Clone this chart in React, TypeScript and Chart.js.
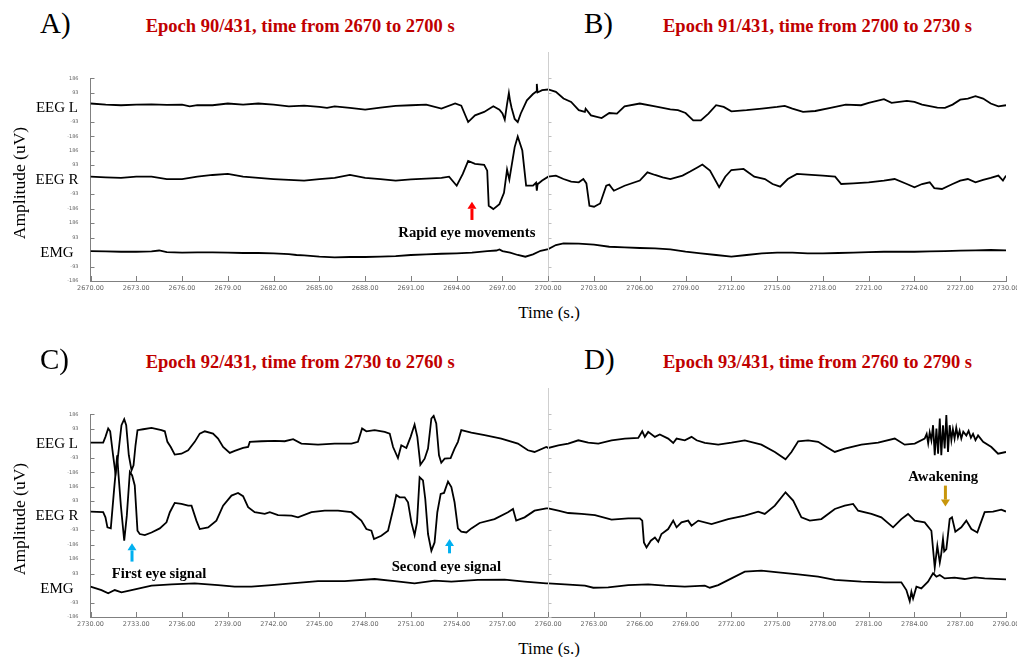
import React, { useEffect, useRef } from "react";
import { Chart, registerables } from "chart.js";
Chart.register(...registerables);

// ---------- data ----------
const CHANNEL_NAMES = ["EEG L", "EEG R", "EMG"];
const CHANNEL_OFFSETS = [930, 465, 0];
const Y_TICK_VALUES = [186, 93, -93, -186];
const ROW1_X_TICKS = [2670, 2673, 2676, 2679, 2682, 2685, 2688, 2691, 2694, 2697, 2700, 2703, 2706, 2709, 2712, 2715, 2718, 2721, 2724, 2727, 2730];
const ROW2_X_TICKS = [2730, 2733, 2736, 2739, 2742, 2745, 2748, 2751, 2754, 2757, 2760, 2763, 2766, 2769, 2772, 2775, 2778, 2781, 2784, 2787, 2790];
const PANEL_TITLES = [
  "Epoch 90/431, time from 2670 to 2700 s",
  "Epoch 91/431, time from 2700 to 2730 s",
  "Epoch 92/431, time from 2730 to 2760 s",
  "Epoch 93/431, time from 2760 to 2790 s",
];
const PANEL_LETTERS = ["A)", "B)", "C)", "D)"];

const R1_EEG_L: [number, number][] = [
  [2670, 24], [2671, 17], [2672, 13], [2673, 17], [2674, 19], [2675, 15], [2676, 17], [2676.5, 6], [2677, 13], [2678, 13],
  [2679, 24], [2680, 17], [2681, 24], [2682, 17], [2683, 6], [2684, 11], [2685, 2], [2685.5, -4], [2686, 6], [2687, -4],
  [2688, -15], [2689, -2], [2690, 9], [2691, 13], [2692, 17], [2693, -9], [2693.9, 24], [2694.3, 10], [2694.75, -95],
  [2695.2, -52], [2695.8, -30], [2696.4, 6], [2696.8, -15], [2697, -40], [2697.15, -80], [2697.3, 20], [2697.42, 92],
  [2697.5, 40], [2697.6, -5], [2697.8, -75], [2698, -95], [2698.2, -40], [2698.6, 45], [2699, 85], [2699.2, 100],
  [2699.25, 150], [2699.3, 95], [2699.6, 110], [2700, 114],
  [2700.5, 99], [2701, 56], [2701.5, 34], [2702, -19], [2702.4, -30], [2702.45, -9], [2702.8, -52], [2703.5, -69],
  [2704, -37], [2704.5, -41], [2705, 6], [2706, 24], [2707, 6], [2708, -13], [2708.5, -19], [2709, -37], [2709.5, -84],
  [2710, -84], [2710.5, -41], [2711, 13], [2711.5, 2], [2712, -26], [2713, -19], [2714, -9], [2715, 2], [2715.5, 9],
  [2716, -9], [2716.7, -30], [2717.5, -24], [2718.5, -4], [2719.5, 17], [2720.5, 13], [2721, 28], [2722, 52], [2722.5, 28],
  [2723.5, 41], [2724, 34], [2724.5, 17], [2725.5, -2], [2726, -4], [2726.5, 17], [2727, 49], [2727.5, 56], [2728, 71],
  [2728.5, 56], [2729, 24], [2729.5, 6], [2730, 13],
];

const R1_EEG_R: [number, number][] = [
  [2670, 19], [2671, 15], [2672, 11], [2673, 19], [2674, 19], [2675, 4], [2676, 4], [2677, 19], [2678, 30], [2679, 37],
  [2680, 19], [2681, 11], [2682, 4], [2683, -2], [2684, -6], [2685, 4], [2686, 11], [2687, 30], [2688, 11], [2689, 4],
  [2690, -6], [2691, 2], [2692, 6], [2693, 11], [2693.5, 19], [2694, -39], [2694.4, 37], [2694.75, 120], [2695.2, 101],
  [2695.8, 95], [2696, 58], [2696.1, -168], [2696.4, -189], [2696.8, -157], [2697.1, -85], [2697.3, 65], [2697.45, 0],
  [2697.8, 209], [2698, 277], [2698.3, 187], [2698.55, -39], [2699, -39], [2699.2, -20], [2699.25, -71], [2699.3, -30],
  [2699.6, -6], [2700, 19],
  [2700.5, 26], [2701, 4], [2701.5, -13], [2702, -17], [2702.3, 4], [2702.5, -24], [2702.7, -168], [2703, -174],
  [2703.4, -153], [2703.8, -39], [2704, -32], [2704.3, -71], [2705, -39], [2706, -6], [2706.5, 47], [2707, 30],
  [2707.5, 15], [2708, 4], [2708.8, 26], [2709.3, 52], [2709.8, 80], [2710.1, 97], [2710.6, 58], [2711.2, -49],
  [2711.6, 19], [2712, 62], [2712.8, 69], [2713.5, 19], [2714.2, 4], [2714.7, -28], [2715.2, -45], [2715.7, 4],
  [2716.3, 37], [2717, 32], [2718, 26], [2718.8, 19], [2719.2, -28], [2720, -24], [2721, -17], [2722, -6], [2722.7, 4],
  [2723.5, -28], [2724, -49], [2724.5, -28], [2725, -17], [2725.3, -54], [2725.8, -60], [2726.5, -28], [2727, -6],
  [2727.5, 4], [2728, -17], [2728.5, -2], [2729, 11], [2729.5, 26], [2729.8, -6], [2730, 26],
];

const R1_EMG: [number, number][] = [
  [2670, 6], [2671, 4], [2672, 2], [2673, 2], [2674, 4], [2674.5, 10], [2675, 0], [2676, -4], [2677, -2], [2678, -2],
  [2679, -4], [2680, -6], [2681, -6], [2682, -9], [2683, -13], [2683.5, -19], [2684, -22], [2685, -30], [2686, -34],
  [2687, -32], [2688, -32], [2689, -30], [2690, -26], [2691, -19], [2692, -15], [2693, -11], [2694, -8], [2695, -4],
  [2696, 6], [2696.6, 10], [2696.8, 17], [2697, 6], [2697.5, -4], [2698, -19], [2698.5, -30], [2699, -15], [2699.5, 8],
  [2700, 19], [2700.5, 45], [2701, 56], [2702, 54], [2703, 47], [2704, 34], [2705, 30], [2706, 26], [2707, 24],
  [2708, 17], [2709, 2], [2710, -9], [2711, -19], [2712, -30], [2713, -19], [2714, -9], [2715, -4], [2716, -4],
  [2717, -9], [2718, -9], [2719, -6], [2720, -4], [2721, 0], [2722, 2], [2723, 2], [2724, 2], [2725, 4], [2726, 6],
  [2727, 9], [2728, 11], [2729, 13], [2730, 11],
];

const R2_EEG_L: [number, number][] = [
  [2730, 4], [2730.83, 4], [2730.98, 41], [2731.16, 95], [2731.29, 77], [2731.48, -77], [2731.64, -196], [2731.81, -77],
  [2732.03, 116], [2732.21, 155], [2732.34, 116], [2732.51, -77], [2732.69, -174], [2732.82, -142], [2732.95, -13],
  [2733.08, 84], [2733.45, 90], [2734, 99], [2734.65, 84], [2734.87, 77], [2735.04, 9], [2735.26, -24], [2735.52, -73],
  [2735.96, -67], [2736.4, -45], [2736.83, 9], [2737.16, 62], [2737.49, 77], [2738.03, 62], [2738.36, 30], [2738.69, -24],
  [2739.13, -62], [2739.45, -49], [2740, -30], [2740.33, -24], [2740.44, 9], [2741.2, 13], [2742.07, 15], [2742.73, 13],
  [2743.28, 26], [2743.82, -2], [2744.91, -9], [2746, -2], [2747.1, -2], [2747.53, 9], [2747.8, 95], [2748.08, 77],
  [2748.62, 84], [2749.28, 73], [2749.61, 62], [2749.83, -24], [2750.15, -95], [2750.37, -13], [2750.7, -30],
  [2750.98, 41], [2751.24, 120], [2751.42, 41], [2751.62, -138], [2751.9, -99], [2752.12, -34], [2752.34, 159],
  [2752.49, 176], [2752.66, 127], [2752.84, -77], [2752.99, -125], [2753.21, -99], [2753.6, -95], [2753.86, -34],
  [2754.08, 9], [2754.3, 84], [2754.96, 69], [2755.83, 52], [2756.92, 30], [2758.01, -2], [2758.67, -45], [2759.1, -56],
  [2759.87, -24],
  [2760, -30], [2760.66, -13], [2761.31, -2], [2761.97, 19], [2762.62, 4], [2763.28, -2], [2764.15, 19], [2765.02, 30],
  [2765.9, 34], [2766.16, 77], [2766.33, 41], [2766.55, 73], [2766.99, 41], [2767.31, 56], [2767.86, 30], [2768.19, 2],
  [2768.41, 30], [2768.95, 19], [2769.39, 41], [2769.72, 19], [2770.26, 2], [2771.14, -9], [2772.01, 4], [2772.88, 19],
  [2773.97, -9], [2774.85, -56], [2775.55, -103], [2775.94, -56], [2776.38, 13], [2777.03, 19], [2777.69, 9],
  [2778.23, -24], [2778.78, -56], [2779.43, -34], [2780.52, -9], [2781.62, 4], [2782.71, 30], [2783.36, -9],
  [2784.02, -2], [2784.67, 30], [2784.8, 60], [2784.9, 0], [2785.0, 70], [2785.11, 19], [2785.22, 116], [2785.33, -77],
  [2785.44, 95], [2785.55, -67], [2785.66, 159], [2785.76, -77], [2785.87, 116], [2785.98, -34], [2786.09, 181],
  [2786.2, -56], [2786.31, 116], [2786.42, 20], [2786.52, 90], [2786.63, 30], [2786.74, 100], [2786.85, 40],
  [2786.96, 80], [2787.07, 30], [2787.2, 75], [2787.4, 50], [2787.55, 80], [2787.7, 35], [2787.84, 60], [2788.0, 20],
  [2788.17, 50], [2788.5, 9], [2789.04, -24], [2789.48, -67], [2790, -56],
];

const R2_EEG_R: [number, number][] = [
  [2730, 26], [2730.83, 22], [2730.98, -11], [2731.11, -75], [2731.33, -82], [2731.55, 172], [2731.75, 387],
  [2731.83, 269], [2731.99, 64], [2732.21, -161], [2732.38, 0], [2732.58, 280], [2732.73, 258], [2732.9, 194],
  [2733.08, -97], [2733.23, -118], [2733.56, -125], [2734, -108], [2734.54, -82], [2734.98, -43], [2735.2, 22],
  [2735.52, 82], [2735.96, 75], [2736.4, 64], [2736.62, 64], [2736.94, -32], [2737.16, -86], [2737.71, -75],
  [2738.25, -32], [2738.69, 64], [2739.24, 129], [2739.67, 146], [2740, 125], [2740.33, 54], [2740.76, 22],
  [2741.42, 11], [2741.75, 22], [2742.29, 4], [2743.17, 0], [2743.6, -11], [2744.48, 22], [2745.35, 32], [2746.22, 32],
  [2747.1, 22], [2747.75, -32], [2748.08, -86], [2748.41, -97], [2748.58, -150], [2749.06, -129], [2749.5, -97],
  [2749.89, 64], [2750.04, 133], [2750.26, 118], [2750.59, 118], [2750.81, 86], [2751.03, -43], [2751.24, -125],
  [2751.4, -43], [2751.57, 247], [2751.79, 226], [2751.94, 107], [2752.12, -118], [2752.34, -226], [2752.55, -172],
  [2752.73, 22], [2752.95, 140], [2753.17, 146], [2753.43, 219], [2753.65, 183], [2753.86, 86], [2754.08, -82],
  [2754.3, -103], [2754.63, -108], [2754.96, -82], [2755.5, -47], [2756.48, -22], [2757.36, 22], [2757.69, 43],
  [2757.9, -32], [2758.45, -11], [2759.1, 32], [2759.87, 47],
  [2760, 47], [2760.66, 32], [2761.31, 17], [2762.18, 11], [2763.06, 4], [2764.15, -26], [2765.24, -17], [2766, -17],
  [2766.16, -32], [2766.27, -172], [2766.44, -204], [2766.72, -161], [2766.99, -140], [2767.21, -168], [2767.42, -118],
  [2767.86, -86], [2768.19, -32], [2768.41, -75], [2768.73, -43], [2769.17, -32], [2769.39, -64], [2769.83, -32],
  [2770.7, -54], [2771.79, -22], [2772.88, 0], [2773.76, 26], [2774.19, 11], [2774.85, 64], [2775.55, 150],
  [2776.05, 97], [2776.59, -11], [2777.14, -32], [2777.9, -22], [2778.78, 43], [2779.43, 64], [2779.98, 75],
  [2780.31, 32], [2781.18, 11], [2781.83, -11], [2782.6, -75], [2783.14, -22], [2783.58, 11], [2784.02, -32],
  [2784.67, -43], [2785.11, -97], [2785.33, -333], [2785.5, -194], [2785.66, -301], [2785.75, -250], [2785.87, -150],
  [2785.95, -230], [2786.09, -215], [2786.2, -120], [2786.31, -22], [2786.46, -11], [2786.68, -103], [2787.07, -75],
  [2787.4, -32], [2787.73, -86], [2788.12, -108], [2788.28, -64], [2788.6, 22], [2789.15, 26], [2789.69, 39], [2790, 26],
];

const R2_EMG: [number, number][] = [
  [2730, 9], [2730.72, -13], [2731.16, -34], [2731.59, -13], [2732.03, -28], [2732.69, -13], [2734, 15], [2735.31, 24],
  [2736.83, 30], [2738.36, 19], [2739.45, 9], [2740.55, 9], [2741.86, 19], [2743.17, 30], [2744.91, 45], [2746.66, 45],
  [2748.62, 58], [2749.93, 45], [2751.24, 30], [2752.55, 47], [2753.65, 41], [2755.39, 52], [2757.14, 54],
  [2758.45, 41], [2759.87, 30],
  [2760, 30], [2761.09, 24], [2762.4, 15], [2762.95, 2], [2763.93, 4], [2765.24, 19], [2766.55, 24], [2767.64, 15],
  [2768.95, 9], [2770.26, 15], [2770.59, 2], [2771.14, 19], [2772.01, 62], [2772.88, 105], [2773.97, 112],
  [2775.07, 101], [2776.38, 88], [2777.69, 73], [2778.78, 52], [2780.52, 41], [2782.05, 37], [2783.14, 37],
  [2783.47, -13], [2783.69, -84], [2783.8, -24], [2783.91, -67], [2784.13, 9], [2784.45, -2], [2784.89, 41],
  [2785.22, 95], [2785.44, 73], [2785.66, 84], [2785.98, 62], [2786.63, 67], [2787.29, 58], [2787.95, 69],
  [2788.6, 62], [2790, 56],
];

type Arrow = { t: number; ch: number; from: number; to: number; color: string };
const ROW1_ARROWS: Arrow[] = [{ t: 2695.0, ch: 1, from: -259, to: -142, color: "#ff0000" }];
const ROW2_ARROWS: Arrow[] = [
  { t: 2732.72, ch: 1, from: -295, to: -178, color: "#00b0f0" },
  { t: 2753.53, ch: 1, from: -242, to: -150, color: "#00b0f0" },
  { t: 2786.03, ch: 1, from: 193, to: 58, color: "#c8960c" },
];

// ---------- chart ----------
const decorPlugin = {
  id: "decor",
  afterDraw(chart: any, _args: any, opts: any) {
    const { ctx, chartArea: a, scales } = chart;
    const x = scales.x;
    const y = scales.y;
    ctx.save();
    const sx = Math.round(x.getPixelForValue(opts.split)) + 0.5;
    ctx.lineWidth = 1;
    ctx.strokeStyle = "#cfcfcf";
    ctx.beginPath();
    ctx.moveTo(sx, 12);
    ctx.lineTo(sx, a.bottom);
    ctx.stroke();
    const yTickVals: number[] = [];
    CHANNEL_OFFSETS.forEach((off) => Y_TICK_VALUES.forEach((v) => yTickVals.push(off + v)));
    ctx.strokeStyle = "#808080";
    ctx.beginPath();
    yTickVals.forEach((v) => {
      const py = Math.round(y.getPixelForValue(v)) + 0.5;
      ctx.moveTo(a.left, py);
      ctx.lineTo(a.left + 4, py);
    });
    ctx.stroke();
    ctx.strokeStyle = "#c0c0c0";
    ctx.beginPath();
    yTickVals.forEach((v) => {
      const py = Math.round(y.getPixelForValue(v)) + 0.5;
      ctx.moveTo(sx, py);
      ctx.lineTo(sx + 3, py);
    });
    ctx.stroke();
    ctx.strokeStyle = "#808080";
    ctx.beginPath();
    (opts.xTicks as number[]).forEach((v) => {
      const px = Math.round(x.getPixelForValue(v)) + 0.5;
      ctx.moveTo(px, a.bottom);
      ctx.lineTo(px, a.bottom - 5);
    });
    ctx.stroke();
    (opts.arrows as Arrow[]).forEach((ar) => {
      const off = CHANNEL_OFFSETS[ar.ch];
      const px = x.getPixelForValue(ar.t);
      const y0 = y.getPixelForValue(off + ar.from);
      const y1 = y.getPixelForValue(off + ar.to);
      const dir = y1 > y0 ? 1 : -1;
      const head = 7;
      ctx.strokeStyle = ar.color;
      ctx.fillStyle = ar.color;
      ctx.lineWidth = 3;
      ctx.beginPath();
      ctx.moveTo(px, y0);
      ctx.lineTo(px, y1 - dir * head);
      ctx.stroke();
      ctx.beginPath();
      ctx.moveTo(px, y1);
      ctx.lineTo(px - 4.5, y1 - dir * head);
      ctx.lineTo(px + 4.5, y1 - dir * head);
      ctx.closePath();
      ctx.fill();
    });
    ctx.restore();
  },
};

function channelLabel(value: number): string {
  for (const off of CHANNEL_OFFSETS) {
    if (Math.abs(value - off) <= 186) return String(Math.round(value - off));
  }
  return "";
}

type RowProps = {
  top: number;
  min: number;
  max: number;
  split: number;
  series: [number, number][][];
  xTicks: number[];
  arrows: Arrow[];
};

function EpochRow({ top, min, max, split, series, xTicks, arrows }: RowProps) {
  const ref = useRef<HTMLCanvasElement>(null);
  useEffect(() => {
    const yTickVals: number[] = [];
    CHANNEL_OFFSETS.forEach((off) => Y_TICK_VALUES.forEach((v) => yTickVals.push(off + v)));
    const chart = new Chart(ref.current as HTMLCanvasElement, {
      type: "line",
      data: {
        datasets: series.map((s, i) => ({
          label: CHANNEL_NAMES[i],
          data: s.map(([t, v]) => ({ x: t, y: v + CHANNEL_OFFSETS[i] })),
          borderColor: "#000000",
          borderWidth: 1.8,
          pointRadius: 0,
          tension: 0,
          fill: false,
        })),
      },
      options: {
        responsive: false,
        animation: false,
        devicePixelRatio: 1,
        layout: { padding: { top: 38.3, right: 11, left: 0, bottom: 0 } },
        plugins: {
          legend: { display: false },
          tooltip: { enabled: false },
          decor: { split, xTicks, arrows },
        } as any,
        scales: {
          x: {
            type: "linear",
            min,
            max,
            afterBuildTicks: (s: any) => {
              s.ticks = xTicks.map((v) => ({ value: v }));
            },
            afterFit: (s: any) => {
              s.height = 19;
              s.paddingLeft = 0;
              s.paddingRight = 0;
            },
            grid: { display: false, drawTicks: false },
            border: { display: true, color: "#808080", width: 1 },
            ticks: {
              autoSkip: false,
              maxRotation: 0,
              padding: 3,
              color: "#666666",
              font: { family: "DejaVu Sans", size: 6.5 },
              callback: (v: any) => Number(v).toFixed(2),
            },
          },
          y: {
            type: "linear",
            min: -186,
            max: 1116,
            afterBuildTicks: (s: any) => {
              s.ticks = yTickVals.map((v) => ({ value: v }));
            },
            afterFit: (s: any) => {
              s.width = 90.5;
            },
            grid: { display: false, drawTicks: false },
            border: { display: true, color: "#808080", width: 1 },
            ticks: {
              autoSkip: false,
              padding: 12,
              color: "#666666",
              font: { family: "DejaVu Sans", size: 5 },
              callback: (v: any) => channelLabel(Number(v)),
            },
          },
        },
      } as any,
      plugins: [decorPlugin as any],
    });
    return () => chart.destroy();
  }, []);
  return (
    <canvas
      ref={ref}
      width={1017}
      height={260}
      style={{ position: "absolute", left: 0, top, width: 1017, height: 260 }}
    />
  );
}

// ---------- text helpers ----------
const SERIF = '"Liberation Serif", "Times New Roman", serif';

function Txt(props: {
  x: number;
  base: number;
  size: number;
  bold?: boolean;
  color?: string;
  center?: boolean;
  children: React.ReactNode;
}) {
  const { x, base, size, bold, color, center, children } = props;
  return (
    <div
      style={{
        position: "absolute",
        left: x,
        top: base - 0.8375 * size,
        font: `${bold ? "bold " : ""}${size}px ${SERIF}`,
        lineHeight: `${size}px`,
        color: color || "#000",
        whiteSpace: "nowrap",
        transform: center ? "translateX(-50%)" : undefined,
      }}
    >
      {children}
    </div>
  );
}

function RowText({ dy, row }: { dy: number; row: number }) {
  const centers = [107, 179, 252];
  return (
    <>
      <Txt x={40} base={33 + dy} size={29}>{PANEL_LETTERS[row * 2]}</Txt>
      <Txt x={584} base={33 + dy} size={29}>{PANEL_LETTERS[row * 2 + 1]}</Txt>
      <Txt x={145.7} base={32 + dy} size={18.5} bold color="#c00000">{PANEL_TITLES[row * 2]}</Txt>
      <Txt x={663} base={32 + dy} size={18.5} bold color="#c00000">{PANEL_TITLES[row * 2 + 1]}</Txt>
      {CHANNEL_NAMES.map((n, i) => (
        <Txt key={n} x={57} base={centers[i] + 5.5 + dy} size={15} center>{n}</Txt>
      ))}
      <div
        style={{
          position: "absolute",
          left: 20,
          top: 183 + dy,
          font: `17.5px ${SERIF}`,
          lineHeight: "17.5px",
          whiteSpace: "nowrap",
          transform: "translate(-50%, -50%) rotate(-90deg)",
        }}
      >
        Amplitude (uV)
      </div>
      <Txt x={549} base={318 + dy} size={17} center>Time (s.)</Txt>
    </>
  );
}

export default function App() {
  return (
    <div style={{ position: "absolute", left: 0, top: 0, width: 1017, height: 657, background: "#fff", overflow: "hidden" }}>
      <EpochRow top={40} min={2670} max={2730} split={2700} series={[R1_EEG_L, R1_EEG_R, R1_EMG]} xTicks={ROW1_X_TICKS} arrows={ROW1_ARROWS} />
      <EpochRow top={376} min={2730} max={2790} split={2760} series={[R2_EEG_L, R2_EEG_R, R2_EMG]} xTicks={ROW2_X_TICKS} arrows={ROW2_ARROWS} />
      <RowText dy={0} row={0} />
      <RowText dy={336} row={1} />
      <Txt x={398.3} base={237.5} size={14.7} bold>Rapid eye movements</Txt>
      <Txt x={111.7} base={578} size={14.7} bold>First eye signal</Txt>
      <Txt x={391.7} base={571} size={14.7} bold>Second eye signal</Txt>
      <Txt x={908.3} base={481.5} size={14.7} bold>Awakening</Txt>
    </div>
  );
}
